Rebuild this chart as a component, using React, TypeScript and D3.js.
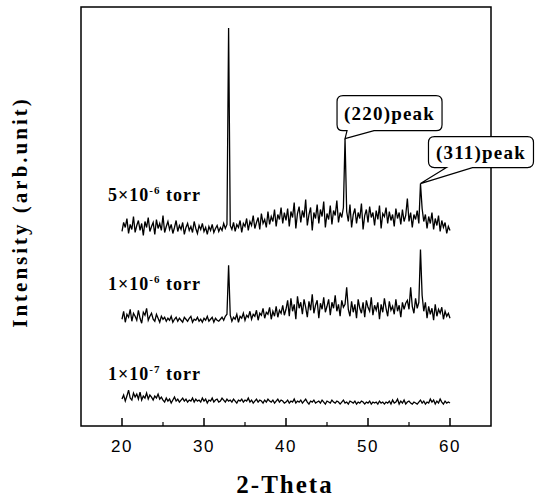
import React from "react";
import * as d3 from "d3";

// 2-theta grid (degrees), 20..60 step 0.2
const twoTheta: number[] = d3.range(0, 201).map((i) => +(20 + i * 0.2).toFixed(1));

const xTicksMajor = [20, 30, 40, 50, 60];
const xTicksMinor = [25, 35, 45, 55];

// Intensity (arb. units), already vertically offset for display
const trace5e6: number[] = [
  195,204,199,208,193,202,197,210,194,201,
  206,196,203,191,205,199,209,195,200,204,
  192,207,198,203,196,211,194,200,205,197,
  202,193,199,206,195,201,197,204,192,199,
  203,196,200,194,205,198,193,201,197,203,
  195,199,192,200,196,202,194,198,201,195,
  199,196,203,198,202,
  399,
  201,197,204,195,202,199,206,194,203,200,
  208,196,205,201,211,198,204,209,197,213,
  203,207,199,215,202,210,205,217,200,212,
  207,219,203,214,
  206,218,200,215,209,224,198,213,220,204,
  216,209,227,201,212,219,196,214,208,222,
  203,217,210,225,199,213,207,221,202,216,
  211,226,204,214,209,219,
  288,
  215,205,222,199,212,218,203,214,208,223,
  197,211,217,204,220,209,214,201,216,207,
  221,198,213,210,219,203,215,206,212,200,
  218,208,214,202,217,205,211,
  228,
  205,214,199,212,207,216,203,
  243,
  218,205,212,198,210,203,214,197,208,201,211,195,206,199,204,193,200,196,
];

const trace1e6: number[] = [
  107,115,104,112,109,117,105,113,110,106,
  116,108,103,114,111,118,106,110,113,107,
  105,112,108,104,110,107,109,105,108,106,
  110,104,107,109,105,108,106,104,109,107,
  105,108,110,104,107,106,109,105,107,104,
  108,106,110,105,107,109,104,108,106,105,
  107,109,106,110,112,
  161,
  111,105,109,107,112,104,110,108,113,106,
  111,109,115,107,112,110,116,106,113,111,
  118,108,114,112,119,107,115,110,120,109,
  116,113,121,111,
  117,126,110,128,115,122,107,130,118,124,
  112,127,119,109,125,116,132,113,121,126,
  108,123,117,129,114,120,127,111,124,118,
  131,115,122,110,126,119,
  122,
  139,117,110,125,114,122,108,127,118,113,
  124,109,126,119,115,129,111,121,116,124,
  107,122,114,128,118,110,125,116,120,112,
  127,115,121,109,124,117,123,
  126,
  117,139,120,113,128,118,124,
  177,
  131,115,124,108,120,112,118,106,122,110,117,113,119,107,115,110,113,108,
];

const trace1e7: number[] = [
  27,31,25,30,36,28,26,33,29,32,
  27,34,26,30,28,33,27,31,29,26,
  30,28,32,27,29,
  26,24,28,25,27,23,26,29,25,27,
  24,26,28,25,27,24,26,25,28,24,
  27,25,26,24,28,25,27,23,26,25,
  28,24,26,27,24,25,28,26,24,27,
  25,26,24,27,25,23,26,25,27,24,
  26,25,28,24,26,23,25,27,24,26,
  25,23,26,24,27,25,24,26,23,25,
  27,24,26,25,23,
  24,26,23,25,24,27,23,25,24,26,
  23,25,27,24,22,25,24,26,23,24,
  25,23,26,24,22,25,24,23,26,24,
  23,25,24,22,24,26,23,24,22,25,
  24,23,25,22,24,23,25,24,22,24,
  23,25,22,24,23,24,22,25,23,24,
  22,24,23,25,22,26,23,24,27,22,
  25,23,26,22,24,25,23,22,24,23,
  22,24,26,23,25,22,24,23,27,24,
  26,22,25,23,27,24,22,25,23,24,
  23,
];

const traces = [trace5e6, trace1e6, trace1e7];

const peakLabels = ["(220)peak", "(311)peak"];
const peakPositions = [47.2, 56.4];

const W = 535;
const H = 497;
const left = 81, right = 491, top = 7, bottom = 426;

const serif = "'Liberation Serif', 'Times New Roman', 'DejaVu Serif', serif";
const sans = "'Liberation Sans', Arial, Helvetica, sans-serif";

export default function App() {
  const x = d3.scaleLinear().domain([15, 65]).range([left, right]);
  const y = d3.scaleLinear().domain([0, 420]).range([bottom, top]);
  const line = d3
    .line<number>()
    .x((_, i) => x(twoTheta[i]))
    .y((d) => y(d));

  const peakIdx = peakPositions.map((p) => twoTheta.findIndex((t) => Math.abs(t - p) < 1e-6));
  const tips = peakIdx.map((idx) => ({ x: x(twoTheta[idx]), y: y(trace5e6[idx]) }));

  const callouts = [
    { tip: tips[0], bx: tips[0].x - 8, by: tips[0].y - 43, bw: 105, bh: 35, t0: 10, t1: 37, label: peakLabels[0] },
    { tip: tips[1], bx: tips[1].x + 8, by: tips[1].y - 47, bw: 105, bh: 31, t0: 18, t1: 44, label: peakLabels[1] },
  ];

  const calloutPath = (c: any) => {
    const r = 6;
    const { bx, by, bw, bh, t0, t1, tip } = c;
    const b = by + bh;
    return [
      `M${bx + t0},${b}`,
      `L${tip.x},${tip.y}`,
      `L${bx + t1},${b}`,
      `L${bx + bw - r},${b}`,
      `Q${bx + bw},${b} ${bx + bw},${b - r}`,
      `L${bx + bw},${by + r}`,
      `Q${bx + bw},${by} ${bx + bw - r},${by}`,
      `L${bx + r},${by}`,
      `Q${bx},${by} ${bx},${by + r}`,
      `L${bx},${b - r}`,
      `Q${bx},${b} ${bx + r},${b}`,
      `Z`,
    ].join(" ");
  };

  const seriesLabels = [
    { base: "5", exp: "-6", y: 201 },
    { base: "1", exp: "-6", y: 290 },
    { base: "1", exp: "-7", y: 380 },
  ];

  return (
    <svg
      width={W}
      height={H}
      style={{ position: "absolute", left: 0, top: 0, background: "#fff" }}
    >
      <rect x={0} y={0} width={W} height={H} fill="#fff" />
      <rect x={left} y={top} width={right - left} height={bottom - top} fill="none" stroke="#000" strokeWidth={1.5} />
      {xTicksMajor.map((t) => (
        <line key={"M" + t} x1={x(t)} x2={x(t)} y1={bottom} y2={bottom - 8} stroke="#000" strokeWidth={1.5} />
      ))}
      {xTicksMinor.map((t) => (
        <line key={"m" + t} x1={x(t)} x2={x(t)} y1={bottom} y2={bottom - 4} stroke="#000" strokeWidth={1.2} />
      ))}
      {xTicksMajor.map((t) => (
        <text
          key={"l" + t}
          x={x(t)}
          y={452}
          textAnchor="middle"
          fontFamily={sans}
          fontSize={17}
          letterSpacing={1.5}
          fill="#000"
        >
          {t}
        </text>
      ))}
      {traces.map((tr, k) => (
        <path key={k} d={line(tr) || ""} fill="none" stroke="#000" strokeWidth={1.3} strokeLinejoin="miter" />
      ))}
      {seriesLabels.map((s, k) => (
        <text key={k} x={108} y={s.y} fontFamily={serif} fontWeight="bold" fontSize={18} letterSpacing={1} fill="#000">
          {s.base}
          <tspan>×</tspan>
          10
          <tspan fontSize={11} dy={-7}>{s.exp}</tspan>
          <tspan dy={7}> torr</tspan>
        </text>
      ))}
      {callouts.map((c, k) => (
        <g key={k}>
          <path d={calloutPath(c)} fill="#fff" stroke="#000" strokeWidth={1.2} />
          <text
            x={c.bx + c.bw / 2}
            y={c.by + c.bh / 2 + 6.5}
            textAnchor="middle"
            fontFamily={serif}
            fontWeight="bold"
            fontSize={19}
            letterSpacing={1.2}
            fill="#000"
          >
            {c.label}
          </text>
        </g>
      ))}
      <text
        x={285}
        y={493}
        textAnchor="middle"
        fontFamily={serif}
        fontWeight="bold"
        fontSize={25}
        letterSpacing={2}
        fill="#000"
      >
        2-Theta
      </text>
      <text
        transform="translate(27,212) rotate(-90)"
        textAnchor="middle"
        fontFamily={serif}
        fontWeight="bold"
        fontSize={21}
        letterSpacing={3}
        fill="#000"
      >
        Intensity (arb.unit)
      </text>
    </svg>
  );
}
